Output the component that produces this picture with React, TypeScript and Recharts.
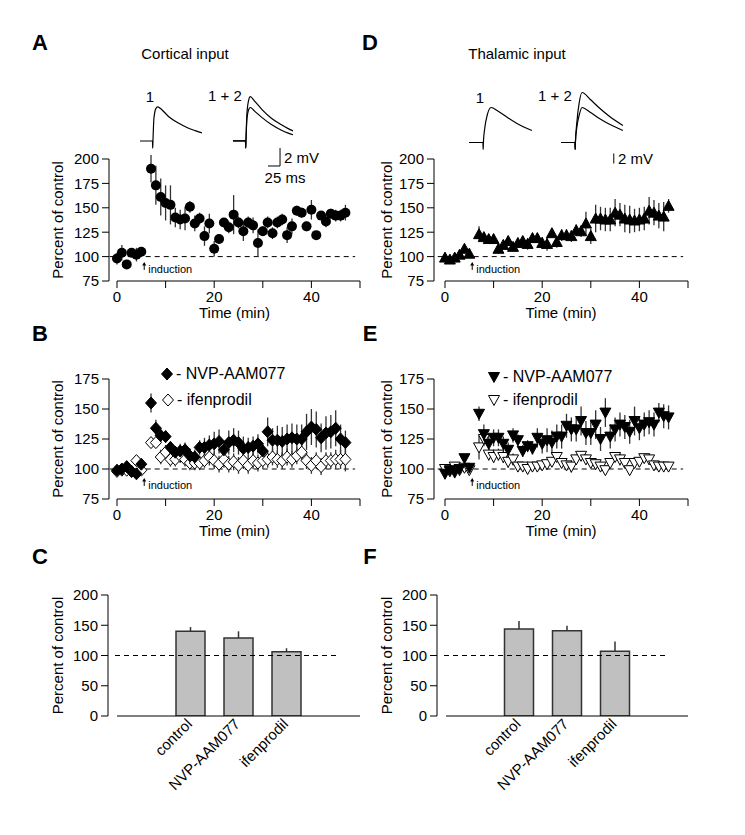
import React from "react";
import {
  ComposedChart,
  LineChart,
  Line,
  Scatter,
  Bar,
  ErrorBar,
  XAxis,
  YAxis,
  ReferenceLine,
  ReferenceDot,
} from "recharts";

const FONT = "'Liberation Sans', Arial, Helvetica, sans-serif";

// ---------- time courses (min) ----------
const cortTime = [0, 1, 2, 3, 4, 5, 7, 8, 9, 10, 11, 12, 13, 14, 15, 16, 17, 18, 19, 20, 21, 22, 23, 24, 25, 26, 27, 28, 29, 30, 31, 32, 33, 34, 35, 36, 37, 38, 39, 40, 41, 42, 43, 44, 45, 46, 47];
const thalTime = [0, 1, 2, 3, 4, 5, 7, 8, 9, 10, 11, 12, 13, 14, 15, 16, 17, 18, 19, 20, 21, 22, 23, 24, 25, 26, 27, 28, 29, 30, 31, 32, 33, 34, 35, 36, 37, 38, 39, 40, 41, 42, 43, 44, 45, 46];

// A - cortical input, control
const cortMean = [98, 104, 92, 104, 102, 105, 190, 173, 161, 155, 153, 140, 138, 139, 151, 134, 139, 121, 134, 108, 118, 135, 130, 143, 135, 126, 135, 132, 114, 126, 135, 124, 135, 138, 122, 131, 147, 145, 131, 148, 122, 142, 136, 144, 142, 142, 145];
const cortSem = [6, 8, 3, 4, 7, 4, 14, 20, 19, 18, 20, 10, 10, 12, 6, 8, 6, 10, 10, 8, 5, 4, 6, 20, 6, 10, 6, 8, 14, 5, 6, 6, 6, 6, 8, 8, 5, 5, 5, 10, 3, 4, 6, 5, 6, 6, 8];

// D - thalamic input, control
const thalMean = [99, 97, 99, 102, 108, 103, 123, 120, 118, 118, 108, 112, 116, 110, 114, 116, 113, 119, 119, 114, 113, 124, 115, 122, 122, 121, 127, 126, 134, 121, 139, 139, 138, 138, 145, 143, 139, 138, 137, 138, 139, 147, 145, 142, 141, 152];
const thalSem = [3, 3, 3, 3, 3, 4, 8, 5, 5, 5, 5, 5, 5, 5, 5, 5, 6, 5, 5, 6, 7, 5, 6, 6, 6, 6, 6, 6, 12, 8, 14, 12, 12, 12, 14, 12, 14, 14, 12, 12, 12, 14, 13, 13, 15, 7];

// B - cortical, NVP-AAM077 / ifenprodil
const cortNvpMean = [99, 100, 102, 98, 96, 104, 155, 134, 128, 127, 118, 114, 115, 116, 111, 110, 118, 118, 120, 121, 123, 116, 122, 124, 122, 117, 118, 119, 121, 115, 131, 124, 124, 123, 125, 126, 125, 125, 131, 135, 133, 126, 130, 131, 134, 125, 122];
const cortNvpSem = [3, 3, 3, 3, 3, 3, 8, 7, 6, 5, 5, 5, 6, 6, 6, 6, 6, 8, 8, 10, 10, 8, 10, 10, 10, 10, 8, 8, 8, 6, 12, 10, 12, 12, 12, 12, 12, 12, 15, 15, 15, 12, 14, 14, 15, 12, 10];
const cortIfenMean = [98, 99, 99, 98, 107, 99, 122, 122, 110, 114, 108, 108, 111, 108, 105, 105, 105, 107, 110, 107, 104, 108, 104, 106, 103, 107, 103, 107, 105, 107, 108, 110, 108, 107, 110, 108, 111, 114, 107, 103, 107, 102, 107, 107, 108, 108, 108];
const cortIfenSem = [2, 2, 2, 2, 3, 3, 4, 4, 6, 6, 6, 6, 6, 6, 6, 6, 6, 6, 7, 7, 7, 7, 7, 7, 7, 7, 7, 7, 7, 7, 7, 7, 7, 7, 7, 7, 7, 7, 7, 7, 7, 7, 7, 7, 8, 8, 10];

// E - thalamic, NVP-AAM077 / ifenprodil
const thalNvpMean = [96, 99, 97, 100, 109, 101, 146, 129, 121, 126, 126, 121, 116, 128, 124, 115, 119, 117, 126, 121, 124, 122, 127, 127, 136, 133, 133, 140, 130, 130, 137, 125, 147, 127, 133, 137, 135, 131, 140, 134, 137, 139, 137, 147, 144, 143];
const thalNvpSem = [2, 2, 2, 2, 3, 3, 6, 8, 6, 7, 7, 6, 6, 6, 5, 5, 5, 5, 8, 8, 10, 10, 10, 10, 10, 10, 10, 12, 10, 10, 12, 10, 12, 10, 10, 10, 10, 10, 12, 10, 10, 10, 10, 8, 10, 10];
const thalIfenMean = [100, 98, 102, 99, 101, 99, 118, 125, 112, 110, 112, 110, 106, 108, 102, 102, 100, 102, 102, 103, 104, 106, 110, 105, 103, 102, 108, 111, 108, 105, 104, 102, 99, 105, 110, 108, 105, 99, 105, 106, 109, 108, 103, 102, 102, 102];
const thalIfenSem = [2, 2, 2, 2, 2, 2, 10, 6, 5, 5, 5, 5, 5, 5, 4, 4, 4, 4, 4, 4, 4, 4, 4, 4, 4, 5, 4, 4, 4, 4, 4, 4, 4, 4, 4, 5, 4, 4, 4, 4, 4, 4, 4, 4, 4, 4];

// ---------- summary bars ----------
const barCats = ["control", "NVP-AAM077", "ifenprodil"];
const cortBar = [140, 129, 106];
const cortBarErr = [7, 11, 6];
const thalBar = [144, 141, 107];
const thalBarErr = [13, 8, 16];

// ---------- example EPSP traces (ms, mV) ----------
const cortT1Time = [0, 26, 26.5, 27, 29, 33, 37, 45, 60, 80, 100, 115, 129];
const cortT1 = [0, 0, -0.8, 0, 2.5, 3.6, 3.8, 3.5, 2.7, 2.0, 1.45, 1.15, 0.9];
const cortT2Time = [0, 26, 26.5, 27, 29, 33, 36, 45, 60, 80, 100, 115, 125];
const cortT2Pair = [0, 0, -0.8, 0, 3.0, 4.6, 4.9, 4.4, 3.5, 2.5, 1.8, 1.35, 1.1];
const cortT2Single = [0, 0, -0.8, 0, 2.4, 3.5, 3.7, 3.3, 2.6, 1.8, 1.2, 0.85, 0.67];

const thalT1Time = [0, 29, 29.5, 30, 33, 38, 46, 60, 80, 100, 131];
const thalT1 = [0, 0, -1.4, 0, 3.0, 5.5, 7.0, 6.3, 5.0, 3.8, 2.4];
const thalT2Time = [0, 29, 29.5, 30, 33, 38, 44, 60, 80, 100, 129];
const thalT2Pair = [0, 0, -1.4, 0, 4.0, 8.0, 10.0, 8.7, 6.9, 5.3, 3.4];
const thalT2Single = [0, 0, -1.4, 0, 3.0, 5.5, 7.0, 6.1, 4.8, 3.7, 2.4];

type Pt = { t: number; v: number; e: number };
const pts = (t: number[], v: number[], e: number[]): Pt[] =>
  t.map((x, i) => ({ t: x, v: v[i], e: e[i] }));

// ---------- markers ----------
const circleShape = (p: any) => <circle cx={p.cx} cy={p.cy} r={5} fill="#000" />;
const triShape = (fill: string, down = false) => (p: any) => {
  const { cx, cy } = p;
  const s = down ? -1 : 1;
  return (
    <polygon
      points={`${cx},${cy - 5.5 * s} ${cx + 5.5},${cy + 4.5 * s} ${cx - 5.5},${cy + 4.5 * s}`}
      fill={fill}
      stroke="#000"
      strokeWidth={1}
    />
  );
};
const diamondShape = (fill: string) => (p: any) => {
  const { cx, cy } = p;
  return (
    <polygon
      points={`${cx},${cy - 6} ${cx + 5.5},${cy} ${cx},${cy + 6} ${cx - 5.5},${cy}`}
      fill={fill}
      stroke="#000"
      strokeWidth={1}
    />
  );
};

const inductionShape = (p: any) => (
  <g>
    <line x1={p.cx} y1={p.cy + 2} x2={p.cx} y2={p.cy + 8} stroke="#000" strokeWidth={1} />
    <path d={`M${p.cx - 2},${p.cy + 3.5} L${p.cx},${p.cy} L${p.cx + 2},${p.cy + 3.5}Z`} fill="#000" />
    <text x={p.cx + 4} y={p.cy + 11} fontSize={11} fill="#000">
      induction
    </text>
  </g>
);

// ---------- helpers ----------
const Txt = ({ x, y, children, size = 15, center = true, weight = 400 }: any) => (
  <div
    style={{
      position: "absolute",
      left: x,
      top: y,
      transform: center ? "translate(-50%,-50%)" : "translateY(-50%)",
      fontSize: size,
      fontWeight: weight,
      lineHeight: 1,
      whiteSpace: "nowrap",
    }}
  >
    {children}
  </div>
);

const LegendRow = ({ x, y, shape, text }: any) => (
  <div
    style={{
      position: "absolute",
      left: x - 7,
      top: y - 9,
      height: 18,
      display: "flex",
      alignItems: "center",
      fontSize: 16,
      whiteSpace: "nowrap",
    }}
  >
    <svg width={14} height={18}>{shape({ cx: 7, cy: 9 })}</svg>
    <span style={{ marginLeft: 2 }}>{text}</span>
  </div>
);

type SeriesDef = { data: Pt[]; shape: (p: any) => React.ReactElement };

function TimePanel(props: {
  left: number;
  width: number;
  plotLeft: number;
  plotTop: number;
  plotRight: number;
  plotBottom: number;
  pad: number;
  yLabelX: number;
  yDomain: [number, number];
  yTicks: number[];
  series: SeriesDef[];
  arrowY: number;
}) {
  const { left, width, plotLeft, plotTop, plotRight, plotBottom, pad, yLabelX, yDomain, yTicks, series, arrowY } = props;
  const top = plotTop - 15;
  const xH = 22;
  const yW = 2 * (plotLeft - yLabelX);
  const height = plotBottom + xH + 25 - top;
  const margin = {
    top: plotTop - top,
    left: plotLeft - left - yW,
    right: left + width - plotRight,
    bottom: top + height - plotBottom - xH,
  };
  return (
    <div style={{ position: "absolute", left, top }}>
      <ComposedChart width={width} height={height} margin={margin}>
        <XAxis
          type="number"
          dataKey="t"
          domain={[0, 50]}
          ticks={[0, 10, 20, 30, 40, 50]}
          interval={0}
          tickFormatter={(v: number) => (v % 20 === 0 && v < 50 ? String(v) : "")}
          padding={{ left: pad, right: 0 }}
          axisLine={false}
          tickSize={7}
          tickMargin={3}
          tickLine={{ stroke: "#000" }}
          tick={{ fill: "#000", fontSize: 15 }}
          height={xH}
          label={{ value: "Time (min)", position: "bottom", offset: 4, fill: "#000", fontSize: 15 }}
        />
        <YAxis
          type="number"
          dataKey="v"
          domain={yDomain}
          ticks={yTicks}
          interval={0}
          allowDataOverflow
          width={yW}
          tickSize={7}
          tickMargin={3}
          axisLine={{ stroke: "#000" }}
          tickLine={{ stroke: "#000" }}
          tick={{ fill: "#000", fontSize: 15 }}
          label={{ value: "Percent of control", angle: -90, position: "center", fill: "#000", fontSize: 15 }}
        />
        <ReferenceLine
          segment={[{ x: 0, y: yDomain[0] }, { x: 50, y: yDomain[0] }]}
          stroke="#000"
          ifOverflow="visible"
        />
        <ReferenceLine
          segment={[{ x: -1.5, y: 100 }, { x: 49, y: 100 }]}
          stroke="#000"
          strokeDasharray="5 4"
          ifOverflow="visible"
        />
        {series.map((s, k) => (
          <Scatter key={k} data={s.data} dataKey="v" shape={s.shape} isAnimationActive={false}>
            <ErrorBar dataKey="e" direction="y" width={0} stroke="#333" strokeWidth={1.3} />
          </Scatter>
        ))}
        <ReferenceDot x={5.6} y={arrowY} r={0} shape={inductionShape} ifOverflow="visible" />
      </ComposedChart>
    </div>
  );
}

const BarTick = (p: any) => {
  const ax = p.x + 3;
  const ay = p.y + 9;
  return (
    <text
      x={ax}
      y={ay}
      textAnchor="end"
      transform={`rotate(-45, ${ax}, ${ay})`}
      fontSize={15}
      fill="#000"
    >
      {barCats[p.payload.value - 1]}
    </text>
  );
};

function BarPanel(props: {
  left: number;
  width: number;
  plotLeft: number;
  plotRight: number;
  firstCenter: number;
  yLabelX: number;
  vals: number[];
  errs: number[];
}) {
  const { left, width, plotLeft, plotRight, firstCenter, yLabelX, vals, errs } = props;
  const plotTop = 595;
  const plotBottom = 716;
  const top = 580;
  const xH = 90;
  const height = plotBottom + xH + 5 - top;
  const yW = 2 * (plotLeft - yLabelX);
  const step = 48;
  const xMin = 1 - (firstCenter - plotLeft) / step;
  const xMax = 3 + (plotRight - (firstCenter + 2 * step)) / step;
  const data = barCats.map((c, k) => ({ i: k + 1, name: c, v: vals[k], err: [0, errs[k]] }));
  return (
    <div style={{ position: "absolute", left, top }}>
      <ComposedChart
        width={width}
        height={height}
        data={data}
        margin={{ top: plotTop - top, left: plotLeft - left - yW, right: left + width - plotRight, bottom: 5 }}
      >
        <XAxis
          type="number"
          dataKey="i"
          domain={[xMin, xMax]}
          ticks={[1, 2, 3]}
          interval={0}
          axisLine={false}
          tickLine={false}
          tickSize={0}
          tickMargin={0}
          tick={BarTick}
          height={xH}
        />
        <YAxis
          type="number"
          domain={[0, 200]}
          ticks={[0, 50, 100, 150, 200]}
          interval={0}
          allowDataOverflow
          width={yW}
          tickSize={7}
          tickMargin={3}
          axisLine={{ stroke: "#000" }}
          tickLine={{ stroke: "#000" }}
          tick={{ fill: "#000", fontSize: 15 }}
          label={{ value: "Percent of control", angle: -90, position: "center", fill: "#000", fontSize: 15 }}
        />
        <Bar dataKey="v" barSize={29} fill="#c0c0c0" stroke="#333" strokeWidth={1.5} isAnimationActive={false}>
          <ErrorBar dataKey="err" direction="y" width={0} stroke="#333" strokeWidth={1.5} />
        </Bar>
        <ReferenceLine
          segment={[{ x: xMin + 9 / step, y: 0 }, { x: xMax, y: 0 }]}
          stroke="#000"
          ifOverflow="visible"
        />
        <ReferenceLine
          segment={[{ x: xMin + 7 / step, y: 100 }, { x: 4.1, y: 100 }]}
          stroke="#000"
          strokeDasharray="5 4"
          ifOverflow="visible"
        />
      </ComposedChart>
    </div>
  );
}

function Trace(props: {
  ox: number;
  oy: number;
  msPx: number;
  mvPx: number;
  xDomain: [number, number];
  yDomain: [number, number];
  data: any[];
  keys: string[];
  children?: React.ReactNode;
}) {
  const { ox, oy, msPx, mvPx, xDomain, yDomain, data, keys, children } = props;
  const m = 3;
  const w = (xDomain[1] - xDomain[0]) * msPx + 2 * m;
  const h = (yDomain[1] - yDomain[0]) * mvPx + 2 * m;
  const left = ox + xDomain[0] * msPx - m;
  const top = oy - yDomain[1] * mvPx - m;
  return (
    <div style={{ position: "absolute", left, top }}>
      <LineChart width={w} height={h} data={data} margin={{ top: m, right: m, bottom: m, left: m }}>
        <XAxis type="number" dataKey="t" domain={xDomain} hide />
        <YAxis type="number" domain={yDomain} hide />
        {keys.map((k) => (
          <Line key={k} dataKey={k} type="monotone" stroke="#000" strokeWidth={1.2} dot={false} isAnimationActive={false} />
        ))}
        {children}
      </LineChart>
    </div>
  );
}

export default function App() {
  const cortT1Data = cortT1Time.map((t, i) => ({ t, a: cortT1[i] }));
  const cortT2Data = cortT2Time.map((t, i) => ({ t, a: cortT2Pair[i], b: cortT2Single[i] }));
  const thalT1Data = thalT1Time.map((t, i) => ({ t, a: thalT1[i] }));
  const thalT2Data = thalT2Time.map((t, i) => ({ t, a: thalT2Pair[i], b: thalT2Single[i] }));

  return (
    <div
      style={{
        position: "absolute",
        left: 0,
        top: 0,
        width: 745,
        height: 835,
        background: "#fff",
        fontFamily: FONT,
        color: "#000",
        overflow: "hidden",
      }}
    >
      {/* panel letters and titles */}
      <Txt x={40} y={43} size={22} weight={700}>A</Txt>
      <Txt x={370} y={43} size={22} weight={700}>D</Txt>
      <Txt x={40} y={334} size={22} weight={700}>B</Txt>
      <Txt x={370} y={334} size={22} weight={700}>E</Txt>
      <Txt x={40} y={557} size={22} weight={700}>C</Txt>
      <Txt x={370} y={557} size={22} weight={700}>F</Txt>
      <Txt x={185} y={53}>Cortical input</Txt>
      <Txt x={517} y={53}>Thalamic input</Txt>

      {/* example traces */}
      <Txt x={150} y={96}>1</Txt>
      <Txt x={225} y={95}>1 + 2</Txt>
      <Txt x={480} y={97}>1</Txt>
      <Txt x={555} y={95}>1 + 2</Txt>
      <Trace ox={140} oy={141} msPx={0.48} mvPx={9} xDomain={[0, 130]} yDomain={[-1, 5]} data={cortT1Data} keys={["a"]} />
      <Trace ox={233} oy={141} msPx={0.48} mvPx={9} xDomain={[0, 130]} yDomain={[-3, 5.2]} data={cortT2Data} keys={["a", "b"]}>
        <ReferenceLine segment={[{ x: 98, y: -2.8 }, { x: 98, y: -0.8 }]} stroke="#000" ifOverflow="visible" />
        <ReferenceLine segment={[{ x: 73, y: -2.8 }, { x: 98, y: -2.8 }]} stroke="#000" ifOverflow="visible" />
      </Trace>
      <Txt x={284} y={157} center={false}>2 mV</Txt>
      <Txt x={285} y={177}>25 ms</Txt>

      <Trace ox={469} oy={142} msPx={0.48} mvPx={5} xDomain={[0, 132]} yDomain={[-1.6, 10.5]} data={thalT1Data} keys={["a"]} />
      <Trace ox={561} oy={142} msPx={0.48} mvPx={5} xDomain={[0, 130]} yDomain={[-4.5, 10.5]} data={thalT2Data} keys={["a", "b"]}>
        <ReferenceLine segment={[{ x: 110, y: -4.2 }, { x: 110, y: -2.2 }]} stroke="#000" ifOverflow="visible" />
      </Trace>
      <Txt x={618} y={158} center={false}>2 mV</Txt>

      {/* A / D */}
      <TimePanel
        left={0}
        width={375}
        plotLeft={109}
        plotTop={159}
        plotRight={360}
        plotBottom={281}
        pad={8}
        yLabelX={58}
        yDomain={[75, 200]}
        yTicks={[75, 100, 125, 150, 175, 200]}
        series={[{ data: pts(cortTime, cortMean, cortSem), shape: circleShape }]}
        arrowY={94.5}
      />
      <TimePanel
        left={330}
        width={415}
        plotLeft={434}
        plotTop={159}
        plotRight={688}
        plotBottom={281}
        pad={11}
        yLabelX={387}
        yDomain={[75, 200]}
        yTicks={[75, 100, 125, 150, 175, 200]}
        series={[{ data: pts(thalTime, thalMean, thalSem), shape: triShape("#000") }]}
        arrowY={94.5}
      />

      {/* B / E */}
      <TimePanel
        left={0}
        width={375}
        plotLeft={109}
        plotTop={379}
        plotRight={360}
        plotBottom={499}
        pad={8}
        yLabelX={58}
        yDomain={[75, 175]}
        yTicks={[75, 100, 125, 150, 175]}
        series={[
          { data: pts(cortTime, cortIfenMean, cortIfenSem), shape: diamondShape("#fff") },
          { data: pts(cortTime, cortNvpMean, cortNvpSem), shape: diamondShape("#000") },
        ]}
        arrowY={92.5}
      />
      <LegendRow x={167} y={374} shape={diamondShape("#000")} text="- NVP-AAM077" />
      <LegendRow x={168} y={400} shape={diamondShape("#fff")} text="- ifenprodil" />

      <TimePanel
        left={330}
        width={415}
        plotLeft={434}
        plotTop={379}
        plotRight={688}
        plotBottom={499}
        pad={11}
        yLabelX={387}
        yDomain={[75, 175]}
        yTicks={[75, 100, 125, 150, 175]}
        series={[
          { data: pts(thalTime, thalIfenMean, thalIfenSem), shape: triShape("#fff", true) },
          { data: pts(thalTime, thalNvpMean, thalNvpSem), shape: triShape("#000", true) },
        ]}
        arrowY={92.5}
      />
      <LegendRow x={494} y={377} shape={triShape("#000", true)} text="- NVP-AAM077" />
      <LegendRow x={494} y={400} shape={triShape("#fff", true)} text="- ifenprodil" />

      {/* C / F */}
      <BarPanel left={0} width={375} plotLeft={108} plotRight={360} firstCenter={190} yLabelX={58} vals={cortBar} errs={cortBarErr} />
      <BarPanel left={330} width={415} plotLeft={437} plotRight={688} firstCenter={518.5} yLabelX={387} vals={thalBar} errs={thalBarErr} />
    </div>
  );
}
